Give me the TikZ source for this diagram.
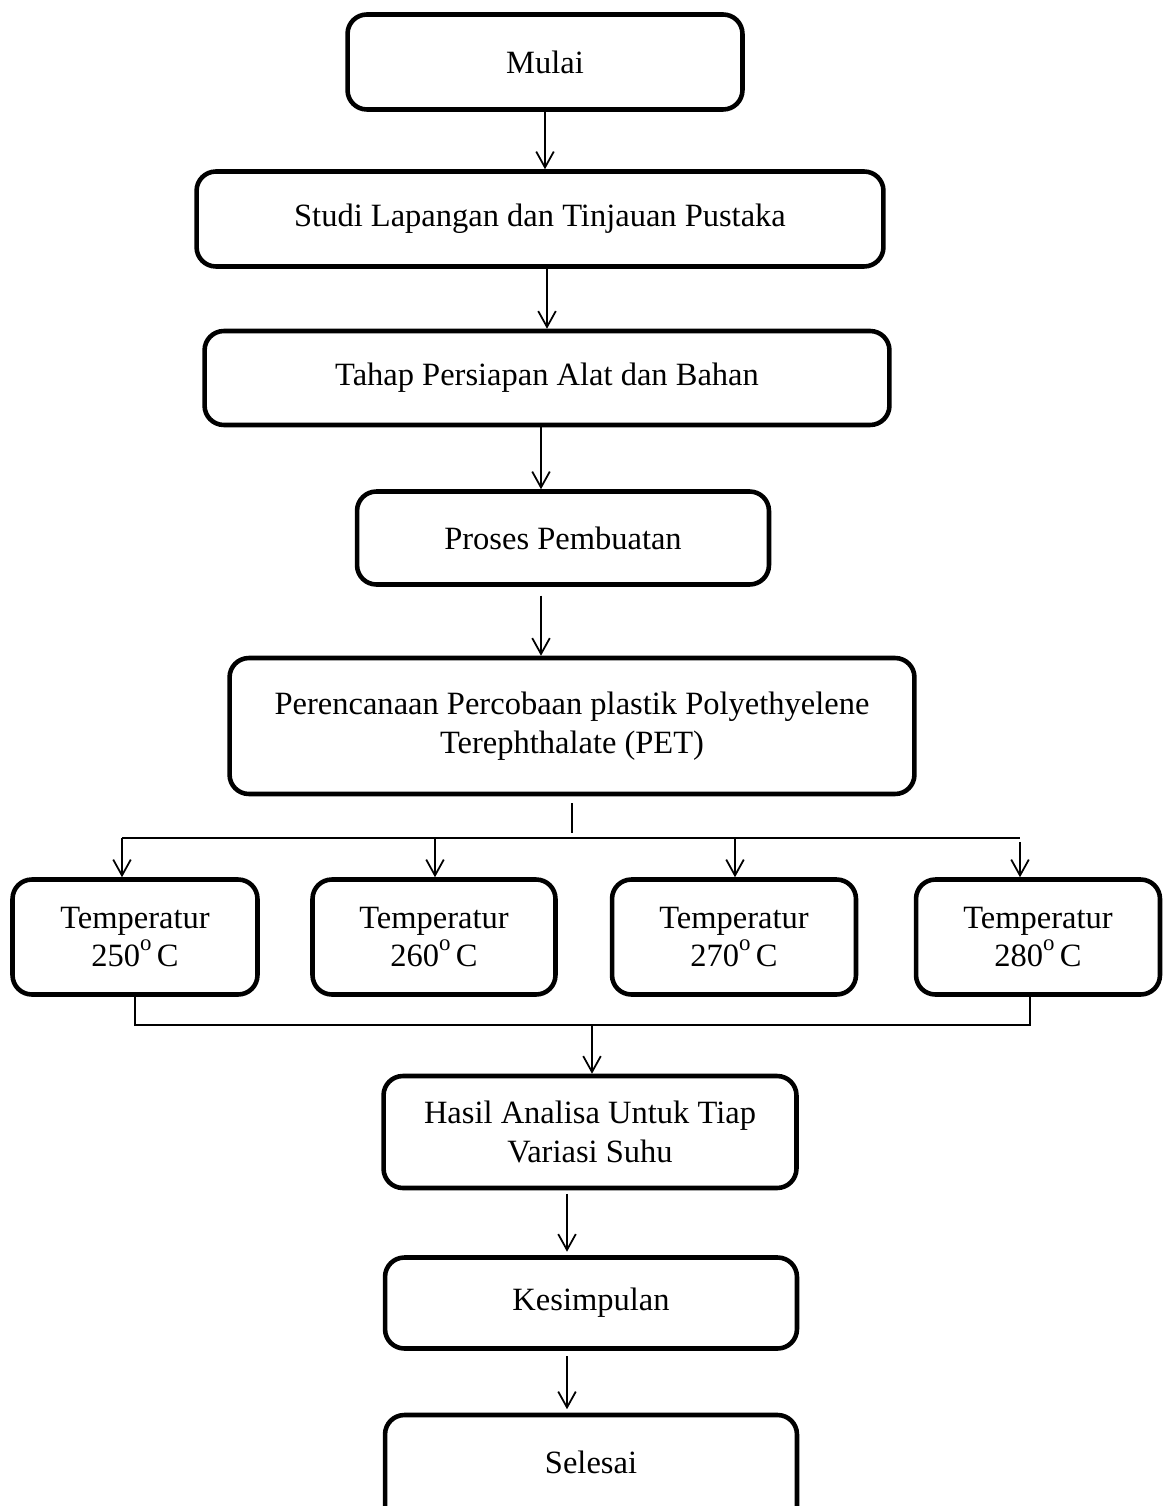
\documentclass[tikz,border=0pt]{standalone}
\usepackage{fontspec}
\setmainfont{Liberation Serif}
\usetikzlibrary{arrows.meta}
\newcommand{\drj}{\raisebox{0.5em}{\fontsize{13}{13}\selectfont o}}

\begin{document}
\begin{tikzpicture}[x=0.02cm,y=-0.02cm,
    kotak/.style={draw,line width=2.6pt,rounded corners=11pt,align=center,
      inner sep=0pt,font=\fontsize{18.5}{22}\selectfont},
    panah/.style={line width=1pt,-{Straight Barb[length=9pt,width=10pt,line width=1pt]}},
    garis/.style={line width=0.8pt}]
      \useasboundingbox (0,0) rectangle (1172,1506);
      % alur utama
      \node[kotak,minimum width=7.9cm,minimum height=1.9cm] (mulai) at (545,62) {Mulai};
      \node[kotak,minimum width=13.74cm,minimum height=1.9cm] (studi) at (540,219) {Studi Lapangan dan Tinjauan Pustaka};
      \node[kotak,minimum width=13.7cm,minimum height=1.88cm] (tahap) at (547,378) {Tahap Persiapan Alat dan Bahan};
      \node[kotak,minimum width=8.24cm,minimum height=1.86cm] (proses) at (563,538) {Proses Pembuatan};
      \node[kotak,minimum width=13.7cm,minimum height=2.72cm] (rencana) at (572,726) {Perencanaan Percobaan plastik Polyethyelene\\Terephthalate (PET)};
      % variasi suhu
      \node[kotak,minimum width=4.9cm,minimum height=2.3cm] (t250) at (135,937) {Temperatur\\250\drj\,C};
      \node[kotak,minimum width=4.86cm,minimum height=2.3cm] (t260) at (434,937) {Temperatur\\260\drj\,C};
      \node[kotak,minimum width=4.88cm,minimum height=2.3cm] (t270) at (734,937) {Temperatur\\270\drj\,C};
      \node[kotak,minimum width=4.88cm,minimum height=2.3cm] (t280) at (1038,937) {Temperatur\\280\drj\,C};
      % hasil
      \node[kotak,minimum width=8.26cm,minimum height=2.24cm] (hasil) at (590,1132) {Hasil Analisa Untuk Tiap\\Variasi Suhu};
      \node[kotak,minimum width=8.24cm,minimum height=1.82cm] (simpul) at (591,1303) {Kesimpulan};
      \node[kotak,minimum width=8.24cm,minimum height=2.4cm,text depth=15pt] (selesai) at (591,1475) {Selesai};

      \draw[panah] (mulai.south) -- (mulai.south |- studi.north);
      \draw[panah] (studi.south -| 547,0) -- (tahap.north -| 547,0);
      \draw[panah] (tahap.south -| 541,0) -- (proses.north -| 541,0);
      \draw[panah] ([yshift=-5pt]proses.south -| 541,0) -- (rencana.north -| 541,0);

      % percabangan
      \coordinate (cabang) at (572,838);
      \draw[garis] ([yshift=-4pt]rencana.south) -- ([yshift=3pt]cabang);
      \draw[garis] (122,838) -- (1020,838);
      \draw[panah] (122,838) -- (t250.north -| 122,0);
      \draw[panah] (435,838) -- (t260.north -| 435,0);
      \draw[panah] (735,838) -- (t270.north -| 735,0);
      \draw[panah] (1020,842) -- (t280.north -| 1020,0);

      % penggabungan
      \coordinate (gabung) at (592,1025);
      \draw[garis] (t250.south) -- (135,1025) -- (1030,1025) -- (t280.south -| 1030,0);
      \draw[panah] (gabung) -- (hasil.north -| gabung);
      \draw[panah] ([yshift=-2pt]hasil.south -| 567,0) -- ([yshift=2pt]simpul.north -| 567,0);
      \draw[panah] ([yshift=-3pt]simpul.south -| 567,0) -- ([yshift=2pt]selesai.north -| 567,0);
\end{tikzpicture}
\end{document}
